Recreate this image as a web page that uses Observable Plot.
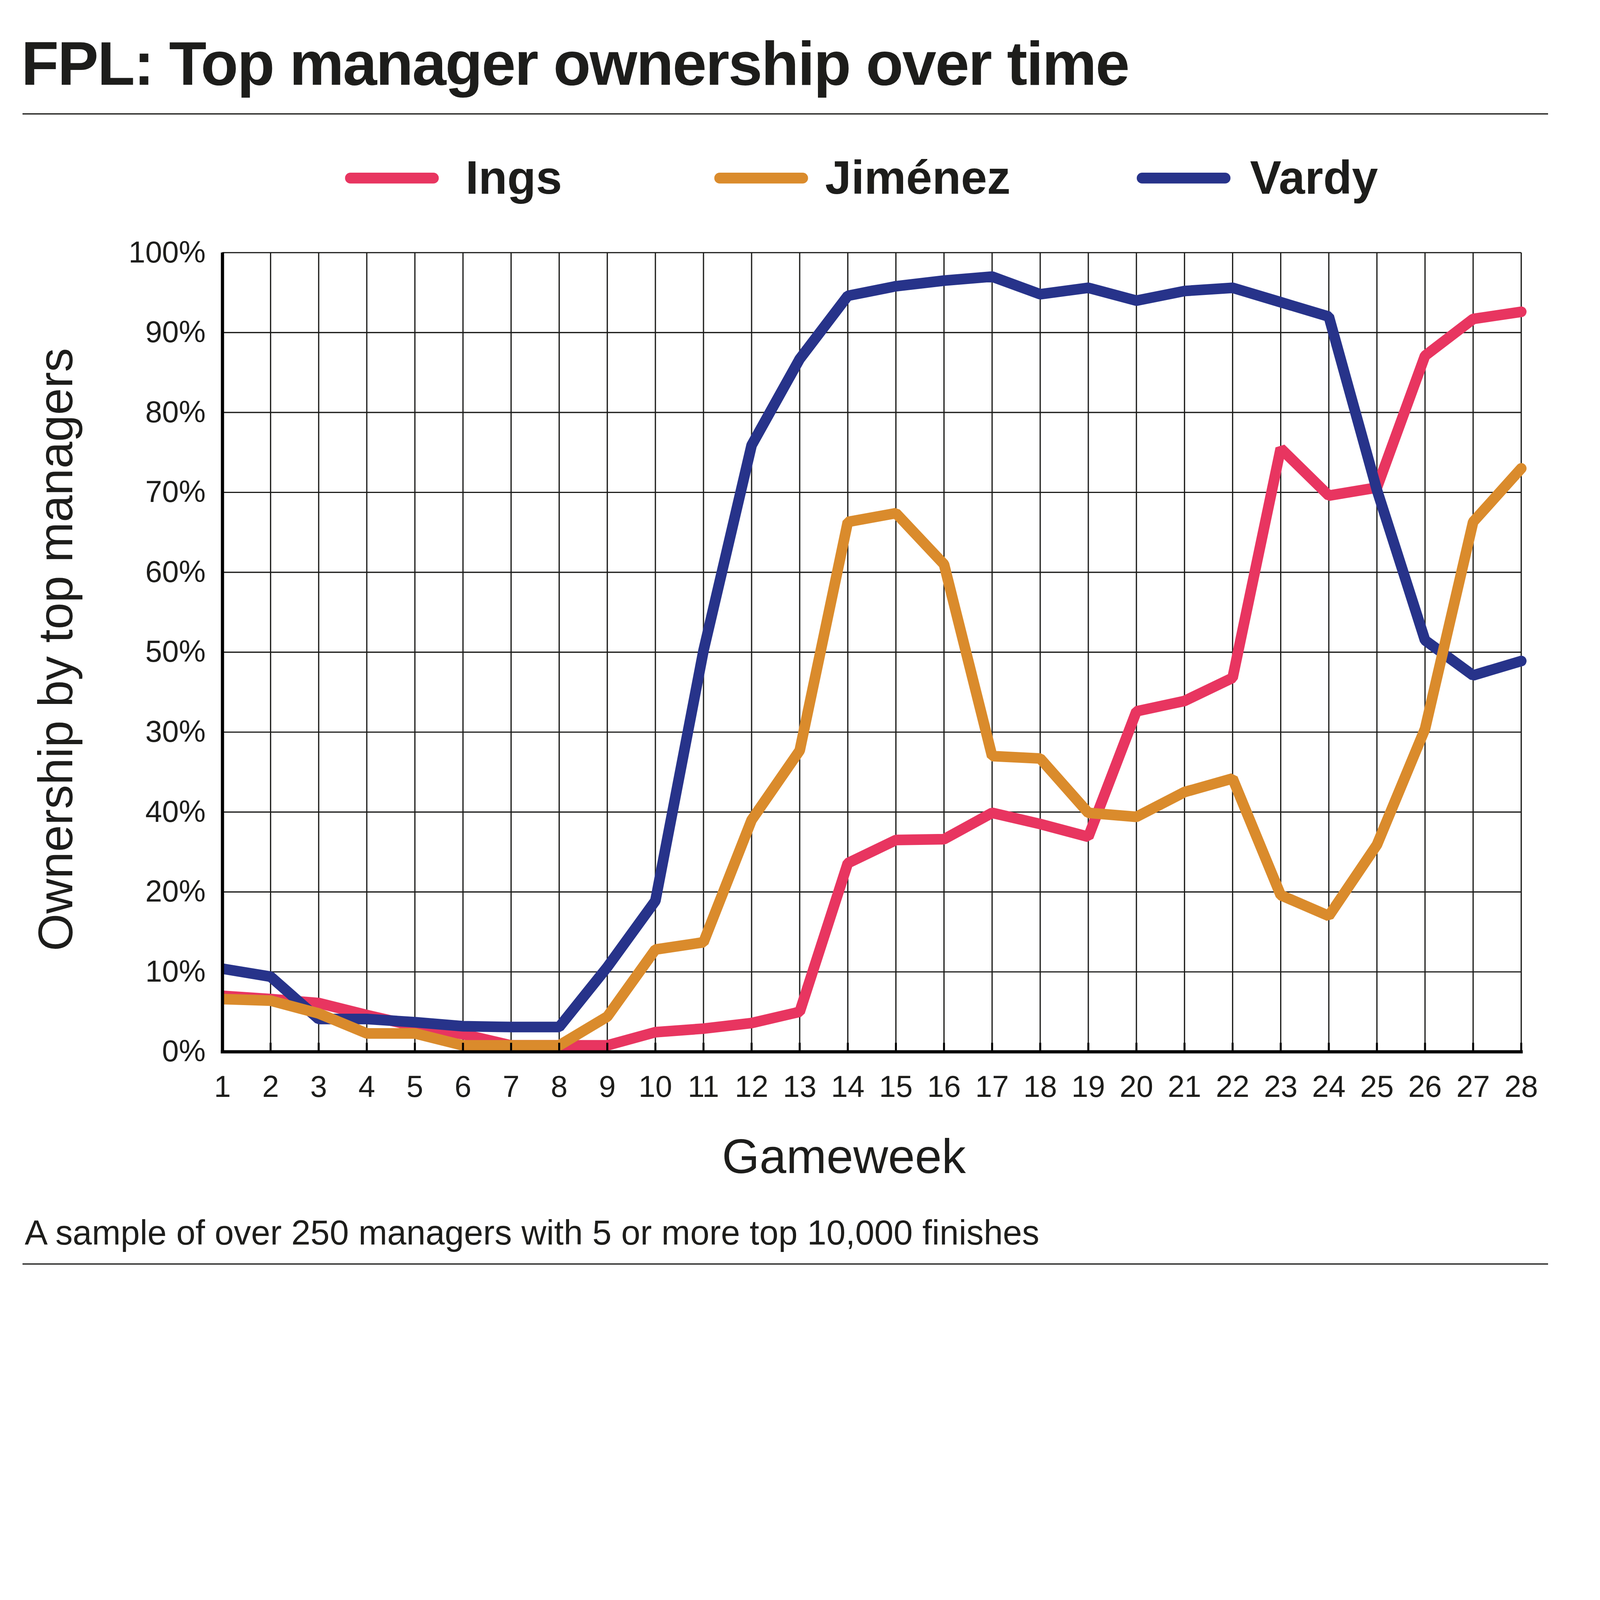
<!DOCTYPE html>
<html>
<head>
<meta charset="utf-8">
<script src="https://cdn.jsdelivr.net/npm/d3@7"></script>
<script src="https://cdn.jsdelivr.net/npm/@observablehq/plot@0.6"></script>
<style>
  html, body { margin: 0; padding: 0; background: #ffffff; overflow: hidden; }
  #page { position: absolute; left: 0; top: 0; width: 6469px; height: 5174px; overflow: hidden; background: #ffffff;
          transform-origin: 0 0;
          font-family: "Liberation Sans", Arial, Helvetica, sans-serif; color: #1d1d1b; }
  .abs { position: absolute; white-space: nowrap; line-height: 1; }
  .rule { position: absolute; background: #1d1d1b; }
  #chart { position: absolute; left: 0; top: 900px; }
</style>
</head>
<body>
<div id="page">
  <div class="abs" id="title" style="left:86px; top:132px; font-size:248px; font-weight:700; letter-spacing:-4.5px;">FPL: Top manager ownership over time</div>
  <div class="rule" style="left:91px; top:458px; width:6168px; height:5px;"></div>
  <div id="legend"></div>
  <div id="chart"></div>
  <div class="abs" id="footer" style="left:100px; top:4915px; font-size:139.5px;">A sample of over 250 managers with 5 or more top 10,000 finishes</div>
  <div class="rule" style="left:91px; top:5108px; width:6168px; height:5px;"></div>
</div>
<script>
// ---- fit the 6469x5174 design to the actual viewport ----
(function fit() {
  const vw = window.innerWidth || document.documentElement.clientWidth || 6469;
  const vh = window.innerHeight || document.documentElement.clientHeight || 5174;
  const s = Math.min(vw / 6469, vh / 5174);
  document.getElementById("page").style.transform = `scale(${s})`;
})();

// ---- data ----
const gameweeks = [1, 2, 3, 4, 5, 6, 7, 8, 9, 10, 11, 12, 13, 14, 15, 16, 17, 18, 19, 20, 21, 22, 23, 24, 25, 26, 27, 28];
const ings    = [7.0, 6.6, 6.1, 4.6, 3.2, 2.2, 0.8, 0.8, 0.8, 2.45, 2.9, 3.6, 5.0, 23.6, 26.5, 26.6, 29.9, 28.5, 26.9, 42.6, 43.9, 46.8, 75.5, 69.6, 70.6, 87.1, 91.7, 92.6];
const jimenez = [6.6, 6.4, 4.8, 2.3, 2.3, 0.8, 0.8, 0.8, 4.4, 12.8, 13.7, 29.0, 37.7, 66.3, 67.4, 61.0, 37.0, 36.7, 29.9, 29.4, 32.5, 34.2, 19.6, 17.0, 25.9, 40.4, 66.3, 73.0];
const vardy   = [10.4, 9.4, 4.1, 4.1, 3.7, 3.2, 3.1, 3.1, 10.6, 18.9, 50.2, 75.9, 86.7, 94.6, 95.8, 96.5, 97.0, 94.8, 95.6, 94.0, 95.2, 95.6, 93.8, 92.0, 70.3, 51.5, 47.1, 48.9];
const seriesNames  = ["Ings", "Jiménez", "Vardy"];
const seriesValues = [ings, jimenez, vardy];
const seriesColors = ["#e83560", "#da8b2c", "#27338a"];
const yTickValues = [0, 10, 20, 30, 40, 50, 60, 70, 80, 90, 100];
const yTickLabels = ["0%", "10%", "20%", "40%", "30%", "50%", "60%", "70%", "80%", "90%", "100%"];
const xTitle = "Gameweek";
const yTitle = "Ownership by top managers";

// ---- rows ----
const rows = seriesNames.flatMap((name, i) =>
  gameweeks.map((g, j) => ({gameweek: g, ownership: seriesValues[i][j], player: name})));

// ---- legend (HTML, above the SVG) ----
const legendSwatchLeft = [1395, 2888, 4596];
const legendTextLeft = [1882, 3336, 5054];
const legend = document.getElementById("legend");
seriesNames.forEach((name, i) => {
  const sw = document.createElement("div");
  sw.style.cssText = `position:absolute;left:${legendSwatchLeft[i]}px;top:698px;width:379px;height:44px;border-radius:22px;background:${seriesColors[i]};`;
  legend.appendChild(sw);
  const tx = document.createElement("div");
  tx.className = "abs";
  tx.style.cssText = `left:${legendTextLeft[i]}px;top:623px;font-size:190px;font-weight:700;`;
  tx.textContent = name;
  legend.appendChild(tx);
});

// ---- chart ----
const ink = "#1d1d1b";
const drawOrder = ["Ings", "Vardy", "Jiménez"];
const lineMarks = drawOrder.map(name => Plot.line(rows.filter(d => d.player === name), {
  x: "gameweek", y: "ownership", stroke: "player",
  strokeWidth: 43, strokeLinecap: "round", strokeLinejoin: "miter", clip: "frame"
}));

const chart = Plot.plot({
  width: 6469,
  height: 3900,
  marginTop: 121,
  marginBottom: 548,
  marginLeft: 899,
  marginRight: 269,
  x: {domain: [gameweeks[0], gameweeks[gameweeks.length - 1]], range: [899, 6150]},
  y: {domain: [0, 100], range: [3352, 121]},
  color: {domain: seriesNames, range: seriesColors},
  style: {fontFamily: "'Liberation Sans', Arial, Helvetica, sans-serif", color: ink, background: "#ffffff", overflow: "visible"},
  marks: [
    Plot.ruleX(gameweeks, {x: d => d, y1: 0, y2: 100, stroke: ink, strokeWidth: 5}),
    Plot.ruleY(yTickValues.slice(1), {y: d => d, x1: gameweeks[0], x2: gameweeks[gameweeks.length - 1], stroke: ink, strokeWidth: 5}),
    ...lineMarks,
    Plot.ruleX([gameweeks[0]], {y1: 0, y2: 100, stroke: "#000", strokeWidth: 13}),
    Plot.ruleY([0], {x1: gameweeks[0], x2: gameweeks[gameweeks.length - 1], stroke: "#000", strokeWidth: 13, strokeLinecap: "square"}),
    Plot.axisX({ticks: gameweeks, tickFormat: d => String(d), tickSize: -36, tickPadding: 132, strokeWidth: 8, fontSize: 122, label: null, stroke: "#000"}),
    Plot.axisY({ticks: yTickValues, tickFormat: d => yTickLabels[yTickValues.indexOf(d)], tickSize: 0, tickPadding: 68, fontSize: 122, label: null}),
    Plot.text([yTitle], {frameAnchor: "left", rotate: -90, textAnchor: "middle", lineAnchor: "bottom", dx: 292 - 899, dy: -11, fontSize: 195, fill: ink}),
    Plot.text([xTitle], {frameAnchor: "bottom", textAnchor: "middle", lineAnchor: "bottom", dx: -138, dy: 491, fontSize: 195, fill: ink})
  ]
});
document.getElementById("chart").appendChild(chart);
</script>
</body>
</html>
